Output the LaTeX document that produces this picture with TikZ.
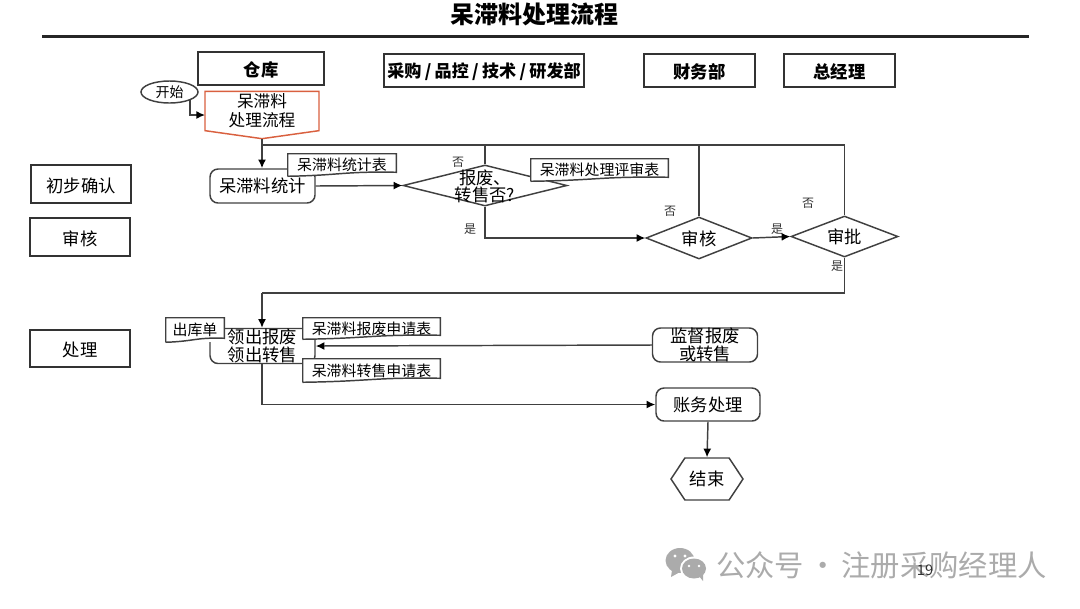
\documentclass[tikz,border=0pt]{standalone}
\usepackage{fontspec}
\setmainfont{Noto Sans CJK SC}
\usepackage{xcolor}
\usepackage{tikz}
\usetikzlibrary{arrows.meta,calc,shapes.geometric,shapes.symbols}

\definecolor{startred}{HTML}{D9603F}
\definecolor{markgray}{HTML}{ABABAB}

\newcommand{\fs}[1]{\fontsize{#1}{#1}\selectfont}
\newcommand{\slashgap}{\kern2.5pt/\kern2.5pt}
% wavy outline round a note node
\newcommand{\docedge}[1]{
  \draw[ln] (#1.south west) -- (#1.north west) -- (#1.north east) -- ($(#1.south east)+(0,-4)$)
    .. controls ($(#1.south)+(0,-5)$) and ($(#1.south)+(0,-1)$) .. (#1.south west);
}

\begin{document}
\begin{tikzpicture}[x=0.75pt, y=-0.75pt,
  sz/.style 2 args={minimum width=#1*0.75pt, minimum height=#2*0.75pt},
  ln/.style={draw=black!75, line width=1.1pt},
  arr/.style={ln, -{Latex[length=6.5pt,width=6pt,black]}},
  lane/.style={draw=black!80, line width=1.5pt, inner sep=0pt, align=center, text height=13.2pt, font=\fs{13}},
  proc/.style={ln, rounded corners=6pt, inner sep=0pt, align=center, font=\fs{13}},
  decision/.style={ln, diamond, inner sep=0pt},
  txt/.style={align=center, font=\fs{13}, inner sep=0pt},
  note/.style={fill=white, inner sep=0pt, font=\fs{11.2}},
  tag/.style={font=\fs{9}, inner sep=0pt, text=black!80}
]
  \useasboundingbox (0,0) rectangle (1080,608);

  % Title
  \node[font=\fs{18}\bfseries, inner sep=0pt] (title) at (534,14) {呆滞料处理流程};
  \coordinate (ruleL) at (42,36.5);
  \coordinate (ruleR) at (1029,36.5);
  \draw[line width=2.8pt, black!85] (ruleL) -- (ruleR);

  % Lane heads
  \node[lane, sz={126}{33}, font=\fs{13}\bfseries]  (cangku)  at (261,68.5)  {仓库};
  \node[lane, sz={200}{33}, font=\fs{12.8}\bfseries]  (caigou)  at (484,70.5)  {采购\slashgap 品控\slashgap 技术\slashgap 研发部};
  \node[lane, sz={111}{33}, font=\fs{13}\bfseries]  (caiwu)   at (699.5,70.5) {财务部};
  \node[lane, sz={111}{33}, font=\fs{13}\bfseries]  (zongjl)  at (839.5,70.5) {总经理};
  \node[lane, sz={100}{38}]  (queren)  at (81,184)    {初步确认};
  \node[lane, sz={100}{38}]  (shenhe0) at (80,237)    {审核};
  \node[lane, sz={100}{37}]  (chuli)   at (80,348.5)  {处理};

  % Nodes
  \node[ln, ellipse, sz={57}{22}, inner sep=0pt, font=\fs{10.5}] (kaishi) at (169.5,92) {开始};
  \node[draw=startred, line width=1.1pt, signal, signal from=nowhere, signal to=south,
        signal pointer angle=164, sz={114}{44}, inner sep=0pt, align=center,
        font=\fs{12.5}] (liucheng) at (262,111) {呆滞料\\[1.5pt]处理流程};
  \node[proc, sz={105}{34}] (tongji) at (262.5,186) {呆滞料统计};
  \node[decision, sz={164}{41}, label={[txt,yshift=-0.8pt]center:报废、\\转售否?}] (baofei) at (485,185.5) {};
  \node[decision, sz={106}{42}, label={[txt,yshift=-0.6pt]center:审核}] (shenhe) at (699,238) {};
  \node[decision, sz={107}{41}, label={[txt,yshift=-0.6pt]center:审批}] (shenpi) at (844.5,236.5) {};
  \node[proc, sz={105}{35}] (lingchu) at (262.5,346) {领出报废\\领出转售};
  \node[proc, sz={105}{34}] (jiandu)  at (705,345)   {监督报废\\或转售};
  \node[proc, sz={104}{33}] (zhangwu) at (708,404.5) {账务处理};
  \node[ln, signal, signal to=east and west, signal pointer angle=113, sz={72}{42},
        inner sep=0pt, font=\fs{13}] (jieshu) at (707,479) {结束};

  % Connectors
  \coordinate (back) at (262,145);
  \coordinate (down) at (262,293);
  \coordinate (kaishiout) at (190,100);
  \coordinate (liuin) at (205,115);
  \draw[arr] (kaishiout) |- (liuin);
  \draw[arr, line width=1.4pt] (liucheng.south) -- (tongji.north -| liucheng.south);
  \draw[ln, line width=1.4pt] (back) -| (shenpi.north);
  \draw[ln] (baofei.north) -- (baofei.north |- back);
  \draw[ln] (shenhe.north) -- (shenhe.north |- back);
  \draw[arr] (tongji.east) -- (baofei.west);
  \draw[arr] (baofei.south) |- (shenhe.west);
  \draw[arr] (shenhe.east) -- (shenpi.west);
  \draw[ln] (shenpi.south) |- (down);
  \draw[arr] (down) -- (lingchu.north -| down);
  \draw[arr] (jiandu.west) -- (lingchu.east);
  \draw[arr] (lingchu.south -| down) |- (zhangwu.west);
  \draw[arr] (zhangwu.south) -- (jieshu.north);

  % Notes
  \node[note, sz={108}{22}] (tjbiao) at (342,165) {呆滞料统计表};
  \docedge{tjbiao}
  \node[note, sz={137}{22}] (psbiao) at (599.5,170) {呆滞料处理评审表};
  \docedge{psbiao}
  \node[note, sz={58}{24}] (chuku) at (195,330) {出库单};
  \docedge{chuku}
  \node[note, sz={137}{21}] (bfbiao) at (371.5,328.5) {呆滞料报废申请表};
  \docedge{bfbiao}
  \node[note, sz={137}{23}] (zsbiao) at (371.5,370.5) {呆滞料转售申请表};
  \docedge{zsbiao}

  % Yes and no marks
  \node[tag] (no1)  at (458,162) {否};
  \node[tag] (yes1) at (470,229) {是};
  \node[tag] (no2)  at (670,211) {否};
  \node[tag] (yes2) at (777,229) {是};
  \node[tag] (no3)  at (808,203) {否};
  \node[tag] (yes3) at (837,266) {是};

  % Watermark
  \fill[markgray] (680,560.5) ellipse (14.5 and 12.5);
  \fill[markgray] (672,570) -- (671,577) -- (680,572) -- cycle;
  \fill[white] (694,568.5) ellipse (14 and 12);
  \fill[markgray] (694,568.5) ellipse (12 and 10);
  \fill[markgray] (699,576) -- (703,581) -- (703,573) -- cycle;
  \fill[white] (675,556) circle (1.6) (685,556) circle (1.6) (689,566) circle (1.4) (699,566) circle (1.4);
  \node[font=\fs{22}, text=markgray, inner sep=0pt, anchor=west] (mark) at (716,565) {公众号\kern-2pt{} · {}\kern-2pt注册采购经理人};
  \node[font=\fs{11}, text=black!80, inner sep=0pt] (page) at (925,570) {19};
\end{tikzpicture}
\end{document}
